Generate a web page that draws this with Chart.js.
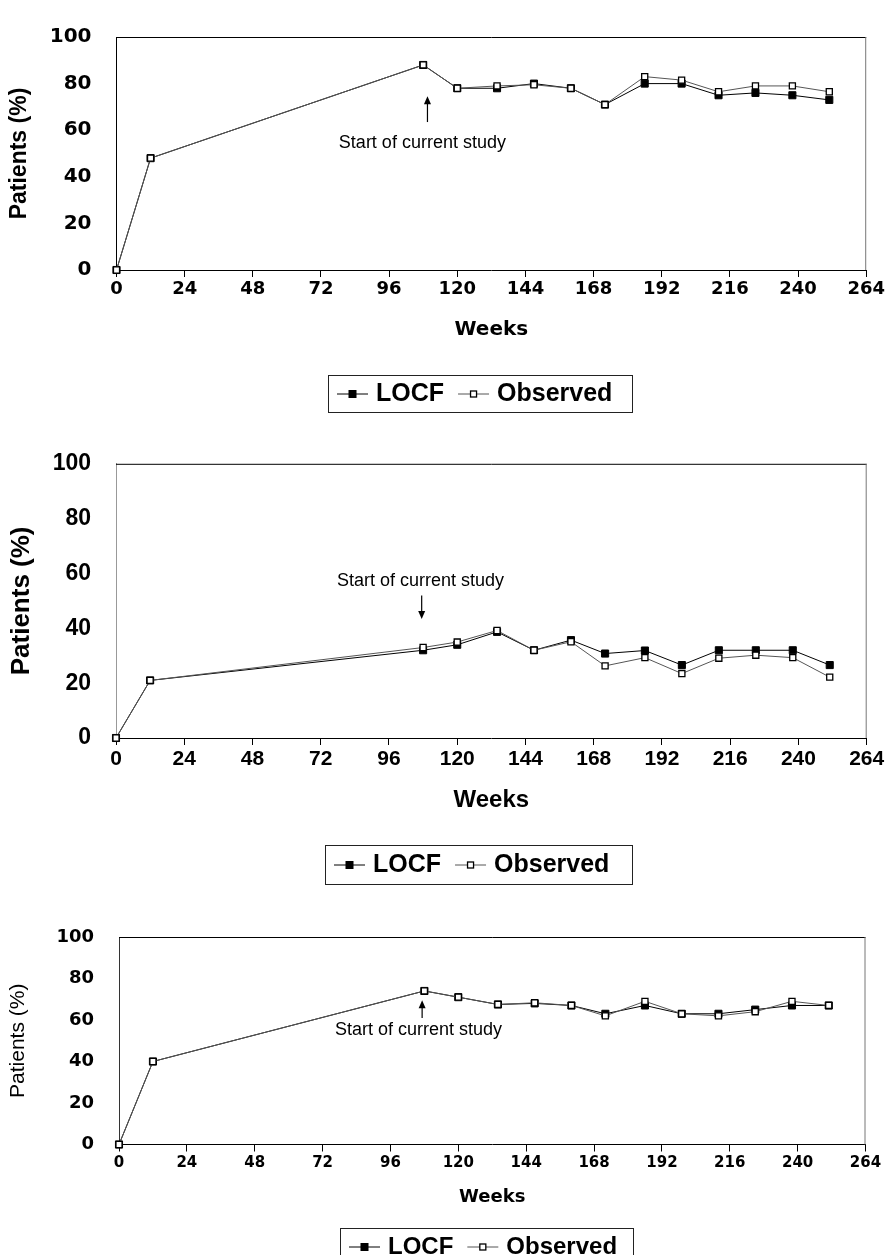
<!DOCTYPE html>
<html>
<head>
<meta charset="utf-8">
<script src="https://cdn.jsdelivr.net/npm/chart.js@4.4.1/dist/chart.umd.min.js"></script>
<style>
  html, body { margin: 0; padding: 0; background: #fff; }
  body { width: 887px; height: 1255px; position: relative; overflow: hidden; }
  canvas { position: absolute; left: 0; }
</style>
</head>
<body>
<canvas id="chart1" width="887" height="425" style="top:0px"></canvas>
<canvas id="chart2" width="887" height="470" style="top:425px"></canvas>
<canvas id="chart3" width="887" height="360" style="top:895px"></canvas>
<script>
// data
const weeks = [0, 12, 108, 120, 134, 147, 160, 172, 186, 199, 212, 225, 238, 251]
const xTicks = [0, 24, 48, 72, 96, 120, 144, 168, 192, 216, 240, 264]
const yTicks = [0, 20, 40, 60, 80, 100]
const seriesNames = ['LOCF', 'Observed']
const xTitle = 'Weeks'
const yTitle = 'Patients (%)'
const noteText = 'Start of current study'

const locf1 = [0, 48, 88, 78, 78, 80, 78, 71, 80, 80, 75, 76, 75, 73]
const observed1 = [0, 48, 88, 78, 79, 79.5, 78, 71, 83, 81.5, 76.5, 79, 79, 76.5]

const locf2 = [0, 21, 32, 34, 38.7, 32, 35.7, 30.8, 31.9, 26.6, 32, 32, 32, 26.6]
const observed2 = [0, 21, 33, 35, 39.2, 32, 35.1, 26.3, 29.3, 23.5, 29.1, 30.2, 29.3, 22.2]

const locf3 = [0, 40, 74, 71, 67.5, 68, 67, 63, 67, 63, 63, 65, 67, 67]
const observed3 = [0, 40, 74, 71, 67.5, 68.3, 67, 62, 69, 63, 62, 64, 69, 67]

const SANS = '"Liberation Sans", Arial, sans-serif'
const WIDE = '"DejaVu Sans", sans-serif'

// layout of the three panels (page pixels)
const panels = [
  {
    id: 'chart1', top: 0, height: 425, left: 116.5, right: 866.5, areaTop: 26, areaBottom: 270,
    weeksY: 330, tickPad: 2,
    yTickFont: { family: WIDE, size: 20, weight: 'bold' },
    xTickFont: { family: WIDE, size: 18, weight: 'bold' },
    yTitleFont: { family: SANS, size: 23, weight: 'bold' },
    xTitleFont: { family: WIDE, size: 20, weight: 'bold' },
    leftColor: '#000',
    legend: { x: 328, y: 375, w: 304, h: 37, font: 'bold 25px ' + SANS },
    note: { textX: 78.3, textY: 54.6, arrowX: 109.5, from: 63.5, to: 74.6 },
    locf: locf1, observed: observed1
  },
  {
    id: 'chart2', top: 425, height: 470, left: 116, right: 866.7, areaTop: 458.5, areaBottom: 738,
    weeksY: 800, tickPad: 2,
    yTickFont: { family: SANS, size: 23, weight: 'bold' },
    xTickFont: { family: SANS, size: 21, weight: 'bold' },
    yTitleFont: { family: SANS, size: 26, weight: 'bold' },
    xTitleFont: { family: SANS, size: 24, weight: 'bold' },
    leftColor: '#999',
    legend: { x: 325, y: 845, w: 307, h: 39, font: 'bold 25px ' + SANS },
    note: { textX: 77.7, textY: 57.3, arrowX: 107.5, from: 52, to: 43.4 },
    locf: locf2, observed: observed2
  },
  {
    id: 'chart3', top: 895, height: 360, left: 119, right: 865.5, areaTop: 937, areaBottom: 1144.5,
    weeksY: 1197, tickPad: 2.5,
    yTickFont: { family: WIDE, size: 18, weight: 'bold' },
    xTickFont: { family: WIDE, size: 15, weight: 'bold' },
    yTitleFont: { family: SANS, size: 21, weight: 'normal' },
    xTitleFont: { family: WIDE, size: 18, weight: 'bold' },
    leftColor: '#333',
    legend: { x: 340, y: 1228, w: 293, h: 37, font: 'bold 24px ' + SANS },
    note: { textX: 76.4, textY: 55.3, arrowX: 107.2, from: 61, to: 69.5 },
    locf: locf3, observed: observed3
  }
]

function drawMarker(ctx, x, y, filled) {
  const s = filled ? 7 : 6
  ctx.fillStyle = filled ? '#000' : '#fff'
  ctx.fillRect(x - s / 2, y - s / 2, s, s)
  ctx.strokeStyle = '#000'
  ctx.lineWidth = filled ? 1 : 1.3
  ctx.strokeRect(x - s / 2, y - s / 2, s, s)
}

// top/right frame of the plot area, arrow note and boxed legend
const decorPlugin = {
  id: 'decor',
  afterDraw(chart, args, opts) {
    const { ctx, chartArea: a, scales } = chart
    const p = opts.panel
    ctx.save()
    ctx.lineWidth = 1
    ctx.strokeStyle = '#000'
    ctx.beginPath()
    ctx.moveTo(a.left, a.top + 0.5)
    ctx.lineTo(a.right, a.top + 0.5)
    ctx.stroke()
    ctx.strokeStyle = '#777'
    ctx.beginPath()
    ctx.moveTo(a.right - 0.5, a.top)
    ctx.lineTo(a.right - 0.5, a.bottom)
    ctx.stroke()

    // note with arrow
    const n = p.note
    const ax = scales.x.getPixelForValue(n.arrowX)
    const y0 = scales.y.getPixelForValue(n.from)
    const y1 = scales.y.getPixelForValue(n.to)
    const dir = y1 < y0 ? 1 : -1
    ctx.strokeStyle = '#000'
    ctx.fillStyle = '#000'
    ctx.lineWidth = 1.2
    ctx.beginPath()
    ctx.moveTo(ax, y0)
    ctx.lineTo(ax, y1 + dir * 6)
    ctx.stroke()
    ctx.beginPath()
    ctx.moveTo(ax, y1)
    ctx.lineTo(ax - 3.5, y1 + dir * 8)
    ctx.lineTo(ax + 3.5, y1 + dir * 8)
    ctx.closePath()
    ctx.fill()
    ctx.font = '18px ' + SANS
    ctx.textBaseline = 'middle'
    ctx.textAlign = 'left'
    ctx.fillText(noteText, scales.x.getPixelForValue(n.textX), scales.y.getPixelForValue(n.textY))

    // legend
    const L = p.legend
    const top = L.y - p.top
    ctx.fillStyle = '#fff'
    ctx.fillRect(L.x, top, L.w, L.h)
    ctx.strokeStyle = '#222'
    ctx.lineWidth = 1
    ctx.strokeRect(L.x + 0.5, top + 0.5, L.w, L.h)
    ctx.font = L.font
    ctx.textBaseline = 'middle'
    const cy = top + L.h / 2 + 0.5
    let cx = L.x + 9
    seriesNames.forEach((name, i) => {
      ctx.strokeStyle = i === 0 ? '#000' : '#555'
      ctx.lineWidth = 1
      ctx.beginPath()
      ctx.moveTo(cx, cy)
      ctx.lineTo(cx + 31, cy)
      ctx.stroke()
      drawMarker(ctx, cx + 15.5, cy, i === 0)
      cx += 39
      ctx.fillStyle = '#000'
      ctx.fillText(name, cx, cy)
      cx += ctx.measureText(name).width + 14
    })
    ctx.restore()
  }
}

function makeChart(p) {
  const xLh = p.xTitleFont.size * 1.2
  const axisH = p.weeksY - p.areaBottom + xLh / 2
  const padBottom = p.top + p.height - p.areaBottom - axisH
  const pts = vals => weeks.map((w, i) => ({ x: w, y: vals[i] }))

  return new Chart(document.getElementById(p.id), {
    type: 'line',
    data: {
      datasets: [
        {
          label: seriesNames[1],
          data: pts(p.observed),
          order: 0,
          borderColor: '#555',
          borderWidth: 1,
          pointStyle: 'rect',
          pointRadius: 4.3,
          pointBackgroundColor: '#fff',
          pointBorderColor: '#000',
          pointBorderWidth: 1.3,
          tension: 0,
          clip: false
        },
        {
          label: seriesNames[0],
          data: pts(p.locf),
          order: 1,
          borderColor: '#000',
          borderWidth: 1,
          pointStyle: 'rect',
          pointRadius: 5,
          pointBackgroundColor: '#000',
          pointBorderColor: '#000',
          pointBorderWidth: 1,
          tension: 0,
          clip: false
        }
      ]
    },
    options: {
      responsive: false,
      animation: false,
      devicePixelRatio: 1,
      layout: {
        padding: { top: p.areaTop - p.top, right: 887 - p.right, bottom: padBottom, left: 0 }
      },
      plugins: {
        legend: { display: false },
        tooltip: { enabled: false },
        decor: { panel: p }
      },
      scales: {
        x: {
          type: 'linear',
          min: 0,
          max: 264,
          afterBuildTicks: s => { s.ticks = xTicks.map(v => ({ value: v })) },
          afterFit: s => { s.height = axisH },
          grid: { drawOnChartArea: false, drawTicks: true, tickLength: 7, color: '#000' },
          border: { color: '#000', width: 1 },
          ticks: { color: '#000', font: p.xTickFont, padding: p.tickPad, maxRotation: 0 },
          title: { display: true, text: xTitle, color: '#000', font: p.xTitleFont, padding: 0 }
        },
        y: {
          min: 0,
          max: 100,
          afterBuildTicks: s => { s.ticks = yTicks.map(v => ({ value: v })) },
          afterFit: s => { s.width = p.left },
          grid: { display: false, drawTicks: false },
          border: { color: p.leftColor, width: 1 },
          ticks: { color: '#000', font: p.yTickFont, padding: 25 },
          title: { display: true, text: yTitle, color: '#000', font: p.yTitleFont, padding: { top: 6 } }
        }
      }
    },
    plugins: [decorPlugin]
  })
}

panels.forEach(makeChart)
</script>
</body>
</html>
